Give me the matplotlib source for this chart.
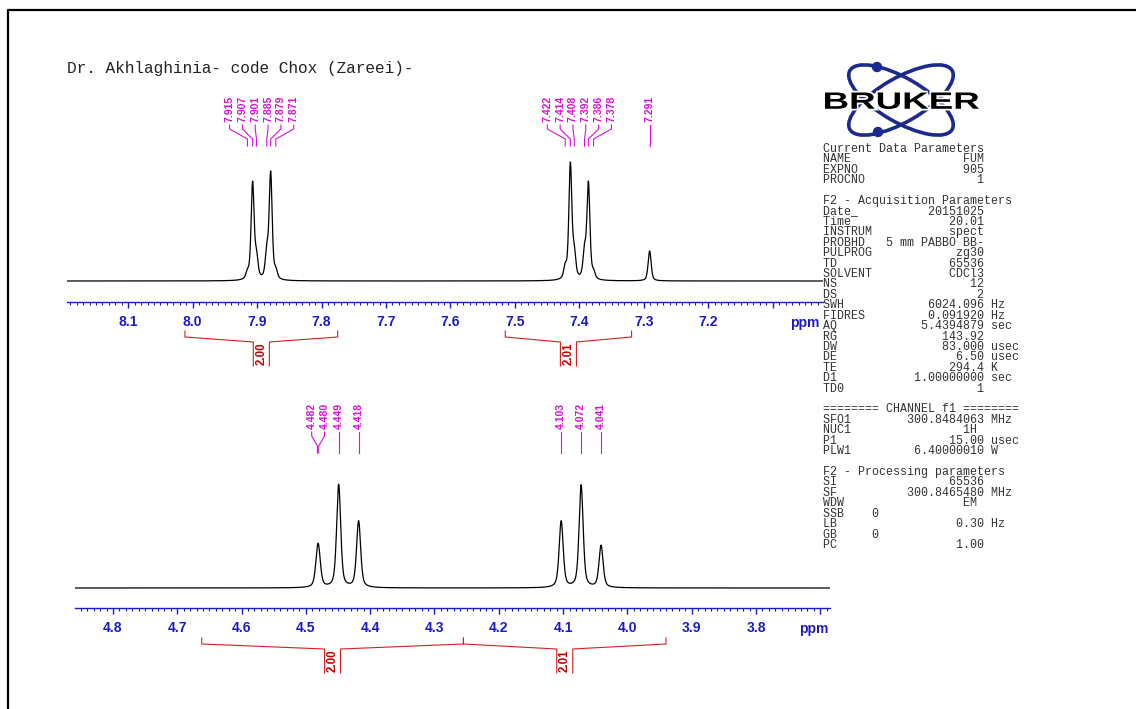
import matplotlib
matplotlib.use("Agg")
import matplotlib.pyplot as plt
import numpy as np
from matplotlib.patches import Ellipse, Circle, PathPatch
from matplotlib.lines import Line2D
from matplotlib.textpath import TextPath
from matplotlib.font_manager import FontProperties
from matplotlib import font_manager as fm
from matplotlib.transforms import Affine2D
from matplotlib.ticker import MultipleLocator
import matplotlib.patheffects as pe

W, H = 1136, 709

# ---- values ----
title = "Dr. Akhlaghinia- code Chox (Zareei)-"

top_ppm = [7.915, 7.907, 7.901, 7.885, 7.879, 7.871,
           7.422, 7.414, 7.408, 7.392, 7.386, 7.378, 7.291]
top_amp = [6.4, 96.7, 20.8, 25.8, 106.3, 7.8, 11.3, 115.2, 23.7, 26.6, 96.1, 6.4, 30]
top_groups = [[0, 1, 2, 3, 4, 5], [6, 7, 8, 9, 10, 11], [12]]
top_ticks = [8.1, 8.0, 7.9, 7.8, 7.7, 7.6, 7.5, 7.4, 7.3, 7.2, 7.1]
top_ticklabels = ["8.1", "8.0", "7.9", "7.8", "7.7", "7.6", "7.5", "7.4", "7.3", "7.2", ""]
top_int = [(8.012, 7.775), (7.515, 7.319)]
top_int_val = ["2.00", "2.01"]

bot_ppm = [4.482, 4.480, 4.449, 4.418, 4.103, 4.072, 4.041]
bot_amp = [23.3, 23.3, 103, 66.5, 66.5, 102.5, 42]
bot_groups = [[0, 1], [2], [3], [4], [5], [6]]
bot_ticks = [4.8, 4.7, 4.6, 4.5, 4.4, 4.3, 4.2, 4.1, 4.0, 3.9, 3.8, 3.7]
bot_ticklabels = ["4.8", "4.7", "4.6", "4.5", "4.4", "4.3", "4.2", "4.1", "4.0", "3.9", "3.8", ""]
bot_int = [(4.662, 4.255), (4.255, 3.940)]
bot_int_val = ["2.00", "2.01"]

param_lines = [
    "Current Data Parameters",
    ("NAME", "FUM", ""), ("EXPNO", "905", ""), ("PROCNO", "1", ""),
    "",
    "F2 - Acquisition Parameters",
    ("Date_", "20151025", ""), ("Time", "20.01", ""), ("INSTRUM", "spect", ""),
    ("PROBHD", "5 mm PABBO BB-", ""), ("PULPROG", "zg30", ""), ("TD", "65536", ""),
    ("SOLVENT", "CDCl3", ""), ("NS", "12", ""), ("DS", "2", ""),
    ("SWH", "6024.096", "Hz"), ("FIDRES", "0.091920", "Hz"), ("AQ", "5.4394879", "sec"),
    ("RG", "143.92", ""), ("DW", "83.000", "usec"), ("DE", "6.50", "usec"),
    ("TE", "294.4", "K"), ("D1", "1.00000000", "sec"), ("TD0", "1", ""),
    "",
    "======== CHANNEL f1 ========",
    ("SFO1", "300.8484063", "MHz"), ("NUC1", "1H ", ""), ("P1", "15.00", "usec"),
    ("PLW1", "6.40000010", "W"),
    "",
    "F2 - Processing parameters",
    ("SI", "65536", ""), ("SF", "300.8465480", "MHz"), ("WDW", "EM ", ""),
    "SSB    0",
    ("LB", "0.30", "Hz"),
    "GB     0",
    ("PC", "1.00", ""),
]

BLUE = "#1c1cc4"
MAG = "#dc10dc"
RED = "#d42020"
LAB_STEP = 0.0199    # spacing of peak labels, ppm

_names = {f.name for f in fm.fontManager.ttflist}
NARROW = "Liberation Sans Narrow" if "Liberation Sans Narrow" in _names else "Liberation Sans"


def line_shape(x, centres, heights, fwhm, eta=0.5):
    # pseudo-Voigt lines
    y = np.zeros_like(x)
    hw = fwhm / 2
    for c, h in zip(centres, heights):
        u = ((x - c) / hw) ** 2
        y += h * (eta / (1 + u) + (1 - eta) * np.exp(-np.log(2) * u))
    return y


def px_rect(x0, y_top, x1, y_bot):
    return [x0 / W, 1 - y_bot / H, (x1 - x0) / W, (y_bot - y_top) / H]


fig = plt.figure(figsize=(W / 100, H / 100), dpi=100)


def panel(rect, xlim, ylim, ppm, amp, fwhm, groups, ticks, ticklabels, ints, intvals, ppm_x):
    ax = fig.add_axes(rect)
    x = np.linspace(xlim[0], xlim[1], 9000)
    ax.plot(x, line_shape(x, ppm, amp, fwhm), color="black", lw=0.9)
    ax.set_xlim(*xlim)
    ax.set_ylim(*ylim)
    for s in ["top", "left", "right"]:
        ax.spines[s].set_visible(False)
    ax.spines["bottom"].set_color(BLUE)
    ax.spines["bottom"].set_linewidth(1.0)
    ax.set_yticks([])
    ax.set_xticks(ticks)
    ax.set_xticklabels(ticklabels)
    ax.xaxis.set_minor_locator(MultipleLocator(0.01))
    ax.tick_params(axis="x", which="major", direction="out", length=4.5, width=1,
                   color=BLUE, labelcolor=BLUE, pad=5, labelsize=10)
    ax.tick_params(axis="x", which="minor", direction="out", length=2, width=0.8, color=BLUE)
    for lab in ax.get_xticklabels():
        lab.set_fontweight("bold")
        lab.set_family("Liberation Sans")
    ax.annotate("ppm", xy=(ppm_x, 0), xycoords=("data", "axes fraction"),
                xytext=(0, -15), textcoords="offset points", ha="center", va="center",
                color=BLUE, fontsize=10, fontweight="bold", family="Liberation Sans")

    # peak labels with leader lines
    for g in groups:
        mid = np.mean([ppm[i] for i in g])
        n = len(g)
        for k, i in enumerate(g):
            p = ppm[i]
            lx = p if n == 1 else mid + ((n - 1) / 2 - k) * LAB_STEP
            if n == 1:
                ax.plot([p, p], [156, 135], color=MAG, lw=0.8, clip_on=False)
            else:
                ax.plot([lx, lx, p, p], [156, 152, 142, 135], color=MAG, lw=0.8, clip_on=False)
            ax.text(lx, 159, f"{p:.3f}", rotation=90, ha="center", va="bottom", color=MAG,
                    fontsize=7.5, family=NARROW, fontweight="bold", clip_on=False)

    # integrals
    half = 8 / 644.0
    for (a, b), v in zip(ints, intvals):
        m = (a + b) / 2
        ax.plot([a, a, m + half, m + half], [-50, -56, -61, -85], color=RED, lw=0.8, clip_on=False)
        ax.plot([b, b, m - half, m - half], [-50, -56, -61, -85], color=RED, lw=0.8, clip_on=False)
        ax.text(m, -73, v, rotation=90, ha="center", va="center", color="#c00000",
                fontsize=8.3, family=NARROW, fontweight="bold", clip_on=False)
    return ax


panel(px_rect(67, 95, 823, 302), (8.195, 7.022), (-21, 186), top_ppm, top_amp, 0.0055,
      top_groups, top_ticks, top_ticklabels, top_int, top_int_val, 7.05)
panel(px_rect(75, 400, 830, 608), (4.859, 3.685), (-20, 188), bot_ppm, bot_amp, 0.0075,
      bot_groups, bot_ticks, bot_ticklabels, bot_int, bot_int_val, 3.710)

# title
fig.text(67 / W, 1 - 68 / H, title, family="Liberation Mono", fontsize=11.6, va="center",
         color="#222222")

# parameter block
for i, item in enumerate(param_lines):
    if isinstance(item, tuple):
        name, val, unit = item
        line = name + val.rjust(23 - len(name))
        if unit:
            line += " " + unit
    else:
        line = item
    fig.text(823 / W, 1 - (149 + i * 10.42) / H, line, family="Liberation Mono", fontsize=8.4,
             va="center", ha="left", color="#333333")

# page frame (left and top edges) and logo, in pixel coordinates
pix = Affine2D().scale(1 / W, 1 / H) + fig.transFigure
fig.add_artist(Line2D([8, 8, W + 5], [-5, H - 9.5, H - 9.5], color="black", lw=1.6,
                      transform=pix))

NAVY = "#1b2a8c"
for ang in (30, -30):
    fig.add_artist(Ellipse((901, H - 100), 118, 44, angle=ang, fill=False, lw=2.6, ec=NAVY,
                           transform=pix))
for (cx, cy) in ((877, 67), (878, 132)):
    fig.add_artist(Circle((cx, H - cy), 4.5, color=NAVY, transform=pix))

tp = TextPath((0, 0), "BRUKER", size=1, prop=FontProperties(family="Liberation Sans", weight="bold"))
ext = tp.get_extents()
sx = 154 / ext.width
sy = 16.5 / ext.height
t = Affine2D().translate(-ext.x0, -ext.y0).scale(sx, sy).translate(825, H - 109) + pix
logo = PathPatch(tp, fc="black", ec="none", transform=t)
logo.set_path_effects([pe.Stroke(linewidth=2.5, foreground="white"), pe.Normal()])
fig.add_artist(logo)

fig.savefig("out.png", dpi=100)
